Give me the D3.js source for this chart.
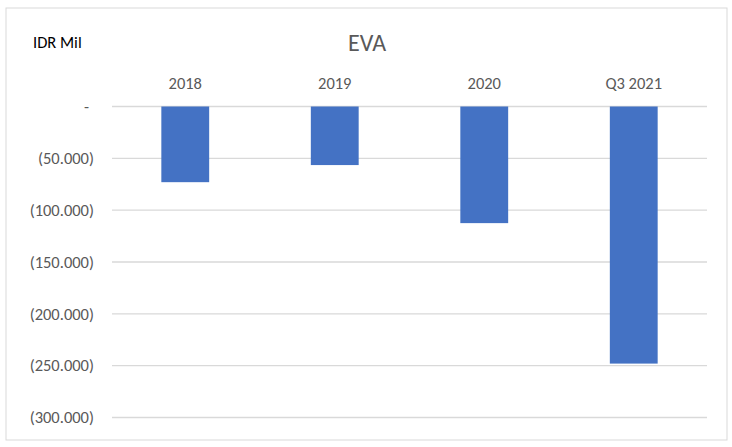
<!DOCTYPE html>
<html>
<head>
<meta charset="utf-8">
<script src="https://cdn.jsdelivr.net/npm/d3@7"></script>
<style>
  body { margin: 0; background: #fff; }
  text { font-family: Calibri, Carlito, Lato, sans-serif; }
</style>
</head>
<body>
<div id="chart"></div>
<script>
// chart data
var categories = ["2018", "2019", "2020", "Q3 2021"];
var eva = [-73000, -56500, -112500, -248000];
var yTicks = [0, -50000, -100000, -150000, -200000, -250000, -300000];

var width = 732, height = 447;
var svg = d3.select("#chart").append("svg")
    .attr("width", width)
    .attr("height", height);

// outer frame
svg.append("rect")
    .attr("x", 6).attr("y", 8)
    .attr("width", 721).attr("height", 432)
    .attr("fill", "#fff")
    .attr("stroke", "#d9d9d9")
    .attr("stroke-width", 1);

var x = d3.scaleBand()
    .domain(categories)
    .range([112, 707])
    .paddingInner(0.68)
    .paddingOuter(0.33);

var y = d3.scaleLinear()
    .domain([0, -300000])
    .range([106.5, 417.5]);

function fmt(v) {
  if (v === 0) return "-";
  return "(" + d3.format(",")(Math.abs(v)).replace(/,/g, ".") + ")";
}

// gridlines
svg.append("g").selectAll("line")
    .data(yTicks)
    .enter()
    .append("line")
    .attr("x1", 112).attr("x2", 707)
    .attr("y1", function(d) { return y(d); })
    .attr("y2", function(d) { return y(d); })
    .attr("stroke", "#d9d9d9")
    .attr("stroke-width", 1.3);

// y axis labels
var yAxis = d3.axisLeft(y).tickValues(yTicks).tickFormat(fmt).tickSize(0).tickPadding(0);
var ya = svg.append("g").attr("transform", "translate(94,0)").call(yAxis);
ya.select(".domain").remove();
ya.selectAll("text")
    .attr("fill", "#595959")
    .style("font-size", "16.5px");
ya.selectAll("text").filter(function(d) { return d === 0; }).attr("dx", -5);

// bars
svg.append("g").selectAll("rect")
    .data(eva)
    .enter()
    .append("rect")
    .attr("x", function(d, i) { return x(categories[i]); })
    .attr("y", y(0))
    .attr("width", x.bandwidth())
    .attr("height", function(d) { return y(d) - y(0); })
    .attr("fill", "#4472c4");

// category labels on top
var xAxis = d3.axisTop(x).tickSize(0).tickPadding(0);
var xa = svg.append("g").attr("transform", "translate(0,89)").call(xAxis);
xa.select(".domain").remove();
xa.selectAll("text")
    .attr("fill", "#595959")
    .style("font-size", "16.5px");

// titles
svg.append("text")
    .attr("x", 367).attr("y", 51)
    .attr("text-anchor", "middle")
    .attr("fill", "#595959")
    .style("font-size", "24px")
    .text("EVA");

svg.append("text")
    .attr("x", 33).attr("y", 48)
    .attr("fill", "#000")
    .style("font-size", "16.5px")
    .text("IDR Mil");
</script>
</body>
</html>
